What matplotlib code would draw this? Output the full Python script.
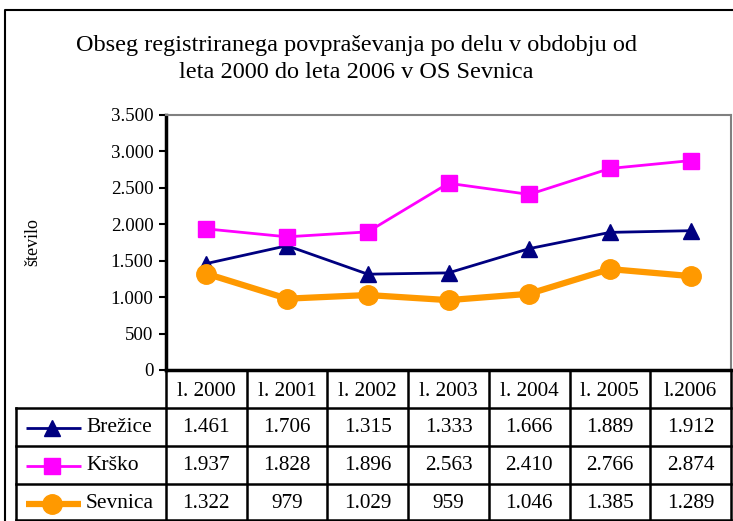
import matplotlib.pyplot as plt

plt.rcParams['font.family'] = ['Liberation Serif', 'DejaVu Serif']

years = ['l. 2000', 'l. 2001', 'l. 2002', 'l. 2003', 'l. 2004', 'l. 2005', 'l.2006']
brezice = [1461, 1706, 1315, 1333, 1666, 1889, 1912]
krsko = [1937, 1828, 1896, 2563, 2410, 2766, 2874]
sevnica = [1322, 979, 1029, 959, 1046, 1385, 1289]

series = [
    ('Brežice', brezice, dict(color='#000080', marker='^', ms=12, lw=2)),
    ('Krško', krsko, dict(color='#FF00FF', marker='s', ms=11, lw=2)),
    ('Sevnica', sevnica, dict(color='#FF9900', marker='o', ms=14, lw=4.5)),
]

def fmt(v):
    return '{:,}'.format(v).replace(',', '.')

W, H = 733, 521
fig = plt.figure(figsize=(W / 100, H / 100), dpi=100)

# pixel layout
px_l, px_r, px_t, px_b = 166, 731, 115, 370
ax = fig.add_axes([px_l / W, 1 - px_b / H, (px_r - px_l) / W, (px_b - px_t) / H])
x = list(range(len(years)))
for name, vals, st in series:
    ax.plot(x, vals, **st)
ax.set_xlim(-0.5, len(years) - 0.5)
ax.set_ylim(0, 3500)
ax.set_yticks(range(0, 3501, 500))
ax.set_yticklabels([fmt(v) for v in range(0, 3501, 500)], fontsize=13.6)
ax.set_xticks([])
ax.tick_params(axis='y', direction='out', length=5, width=1.5, pad=4)
ax.spines['left'].set_linewidth(2.5)
ax.spines['bottom'].set_linewidth(2.5)
ax.spines['top'].set_color('#808080')
ax.spines['right'].set_color('#808080')
ax.spines['top'].set_linewidth(1.5)
ax.spines['right'].set_linewidth(1.5)
fig.text(33 / W, 1 - 242 / H, 'število', rotation=90, ha='center', va='center', fontsize=13)

# overlay in pixel coordinates for the table and frame
ov = fig.add_axes([0, 0, 1, 1])
ov.set_xlim(0, W)
ov.set_ylim(H, 0)
ov.axis('off')
ov.patch.set_alpha(0)

# outer frame
ov.plot([5, 5, W + 5], [H + 5, 10, 10], color='black', lw=1.5)

fig.text(356 / W, 1 - 45 / H, 'Obseg registriranega povpraševanja po delu v obdobju od',
         ha='center', va='center', fontsize=17.5)
fig.text(356 / W, 1 - 73 / H, 'leta 2000 do leta 2006 v OS Sevnica',
         ha='center', va='center', fontsize=17.5)

colw = (px_r - px_l) / len(years)
rows = [372, 408, 446, 484, 521]
lw = 1.8
for i in range(len(years) + 1):
    xx = px_l + i * colw
    ov.plot([xx, xx], [px_b, H], color='black', lw=lw)
ov.plot([16, 16], [rows[1], H], color='black', lw=lw)
for r in rows[1:4]:
    ov.plot([16, px_r], [r, r], color='black', lw=lw)
ov.plot([16, px_r], [H - 1, H - 1], color='black', lw=lw)

for i, yl in enumerate(years):
    ov.text(px_l + (i + 0.5) * colw, (rows[0] + rows[1]) / 2 + 1, yl,
            ha='center', va='center', fontsize=15.3)
for j, (name, vals, st) in enumerate(series):
    yc = (rows[j + 1] + rows[j + 2]) / 2 + 1
    for i, v in enumerate(vals):
        ov.text(px_l + (i + 0.5) * colw, yc, fmt(v), ha='center', va='center', fontsize=15.3)
    ov.plot([26, 81], [yc, yc], color=st['color'], lw=st['lw'], solid_capstyle='butt')
    ov.plot([52], [yc], color=st['color'], marker=st['marker'], ms=st['ms'], ls='none')
    ov.text(86, yc, name, ha='left', va='center', fontsize=15.5)

fig.savefig('out.png', dpi=100)
